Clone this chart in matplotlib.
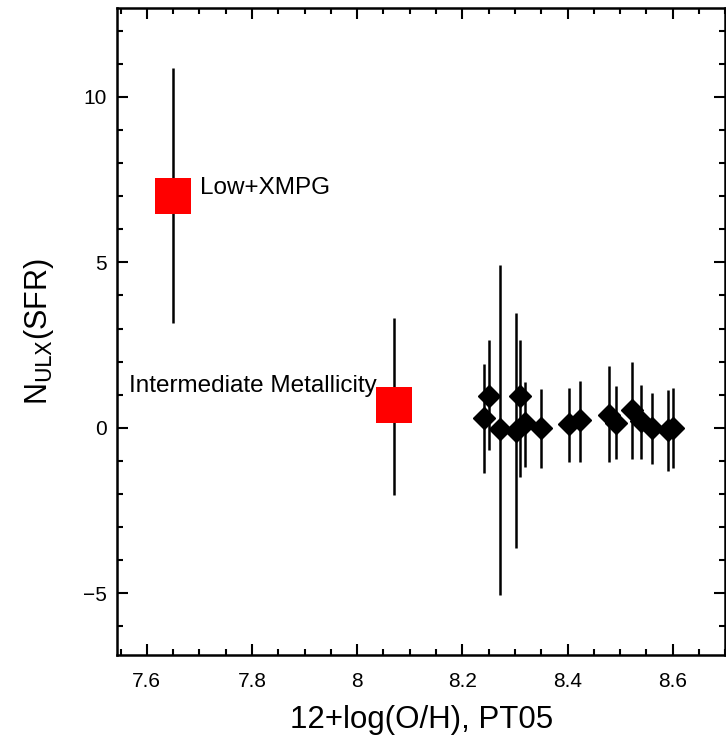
import matplotlib
matplotlib.use("Agg")
import matplotlib.pyplot as plt
from matplotlib.ticker import MultipleLocator, FixedLocator, FixedFormatter
import numpy as np

plt.rcParams['font.family'] = ['Liberation Sans', 'DejaVu Sans']

# Binned groups (red squares)
grp_x = [7.65, 8.07]
grp_y = [7.02, 0.68]
grp_err_lo = [3.86, 2.72]
grp_err_hi = [3.85, 2.63]
grp_labels = ["Low+XMPG", "Intermediate Metallicity"]

# Individual galaxies (black diamonds)
gal_x = [8.241, 8.250, 8.272, 8.302, 8.310, 8.319, 8.350, 8.402, 8.424,
         8.478, 8.492, 8.522, 8.539, 8.561, 8.592, 8.600]
gal_y = [0.28, 0.95, -0.05, -0.10, 0.95, 0.14, -0.02, 0.10, 0.22,
         0.40, 0.14, 0.55, 0.20, -0.02, -0.08, -0.02]
gal_err_lo = [1.66, 1.63, 5.01, 3.53, 2.44, 1.32, 1.21, 1.13, 1.25,
              1.43, 1.10, 1.50, 1.15, 1.08, 1.23, 1.21]
gal_err_hi = [1.64, 1.69, 4.96, 3.56, 1.69, 1.24, 1.20, 1.10, 1.19,
              1.46, 1.12, 1.44, 1.08, 1.08, 1.21, 1.22]

x_ticks = [7.6, 7.8, 8.0, 8.2, 8.4, 8.6]
x_ticklabels = ["7.6", "7.8", "8", "8.2", "8.4", "8.6"]
y_ticks = [-5, 0, 5, 10]
y_ticklabels = ["\u22125", "0", "5", "10"]

fig = plt.figure(figsize=(7.26, 7.39), dpi=100)
ax = fig.add_axes([0.161, 0.1137, 0.838, 0.875])

ax.errorbar(gal_x, gal_y, yerr=[gal_err_lo, gal_err_hi], fmt='D', color='black',
            ecolor='black', elinewidth=1.8, markersize=11, capsize=0, zorder=3)
ax.errorbar(grp_x, grp_y, yerr=[grp_err_lo, grp_err_hi], fmt='none',
            ecolor='black', elinewidth=1.8, capsize=0, zorder=2)
ax.plot(grp_x, grp_y, 's', color='#ff0000', markersize=26, markeredgewidth=0, zorder=4)

ax.text(7.701, 7.25, grp_labels[0], fontsize=17.5, ha='left', va='center')
ax.text(8.037, 1.25, grp_labels[1], fontsize=17.5, ha='right', va='center')

ax.set_xlim(7.543, 8.70)
ax.set_ylim(-6.87, 12.68)

ax.xaxis.set_major_locator(FixedLocator(x_ticks))
ax.xaxis.set_major_formatter(FixedFormatter(x_ticklabels))
ax.xaxis.set_minor_locator(MultipleLocator(0.05))
ax.yaxis.set_major_locator(FixedLocator(y_ticks))
ax.yaxis.set_major_formatter(FixedFormatter(y_ticklabels))
ax.yaxis.set_minor_locator(MultipleLocator(1))

ax.tick_params(which='both', direction='in', top=True, right=True, width=1.5)
ax.tick_params(which='major', length=8, labelsize=15)
ax.tick_params(axis='x', which='major', pad=12)
ax.tick_params(axis='y', which='major', pad=7)
ax.tick_params(which='minor', length=4)
for s in ax.spines.values():
    s.set_linewidth(1.8)

ax.set_xlabel("12+log(O/H), PT05", fontsize=22.5, labelpad=10)
ax.set_ylabel(r"N$_{\rm ULX}$(SFR)", fontsize=22, labelpad=20)

fig.savefig("out.png", dpi=100)
